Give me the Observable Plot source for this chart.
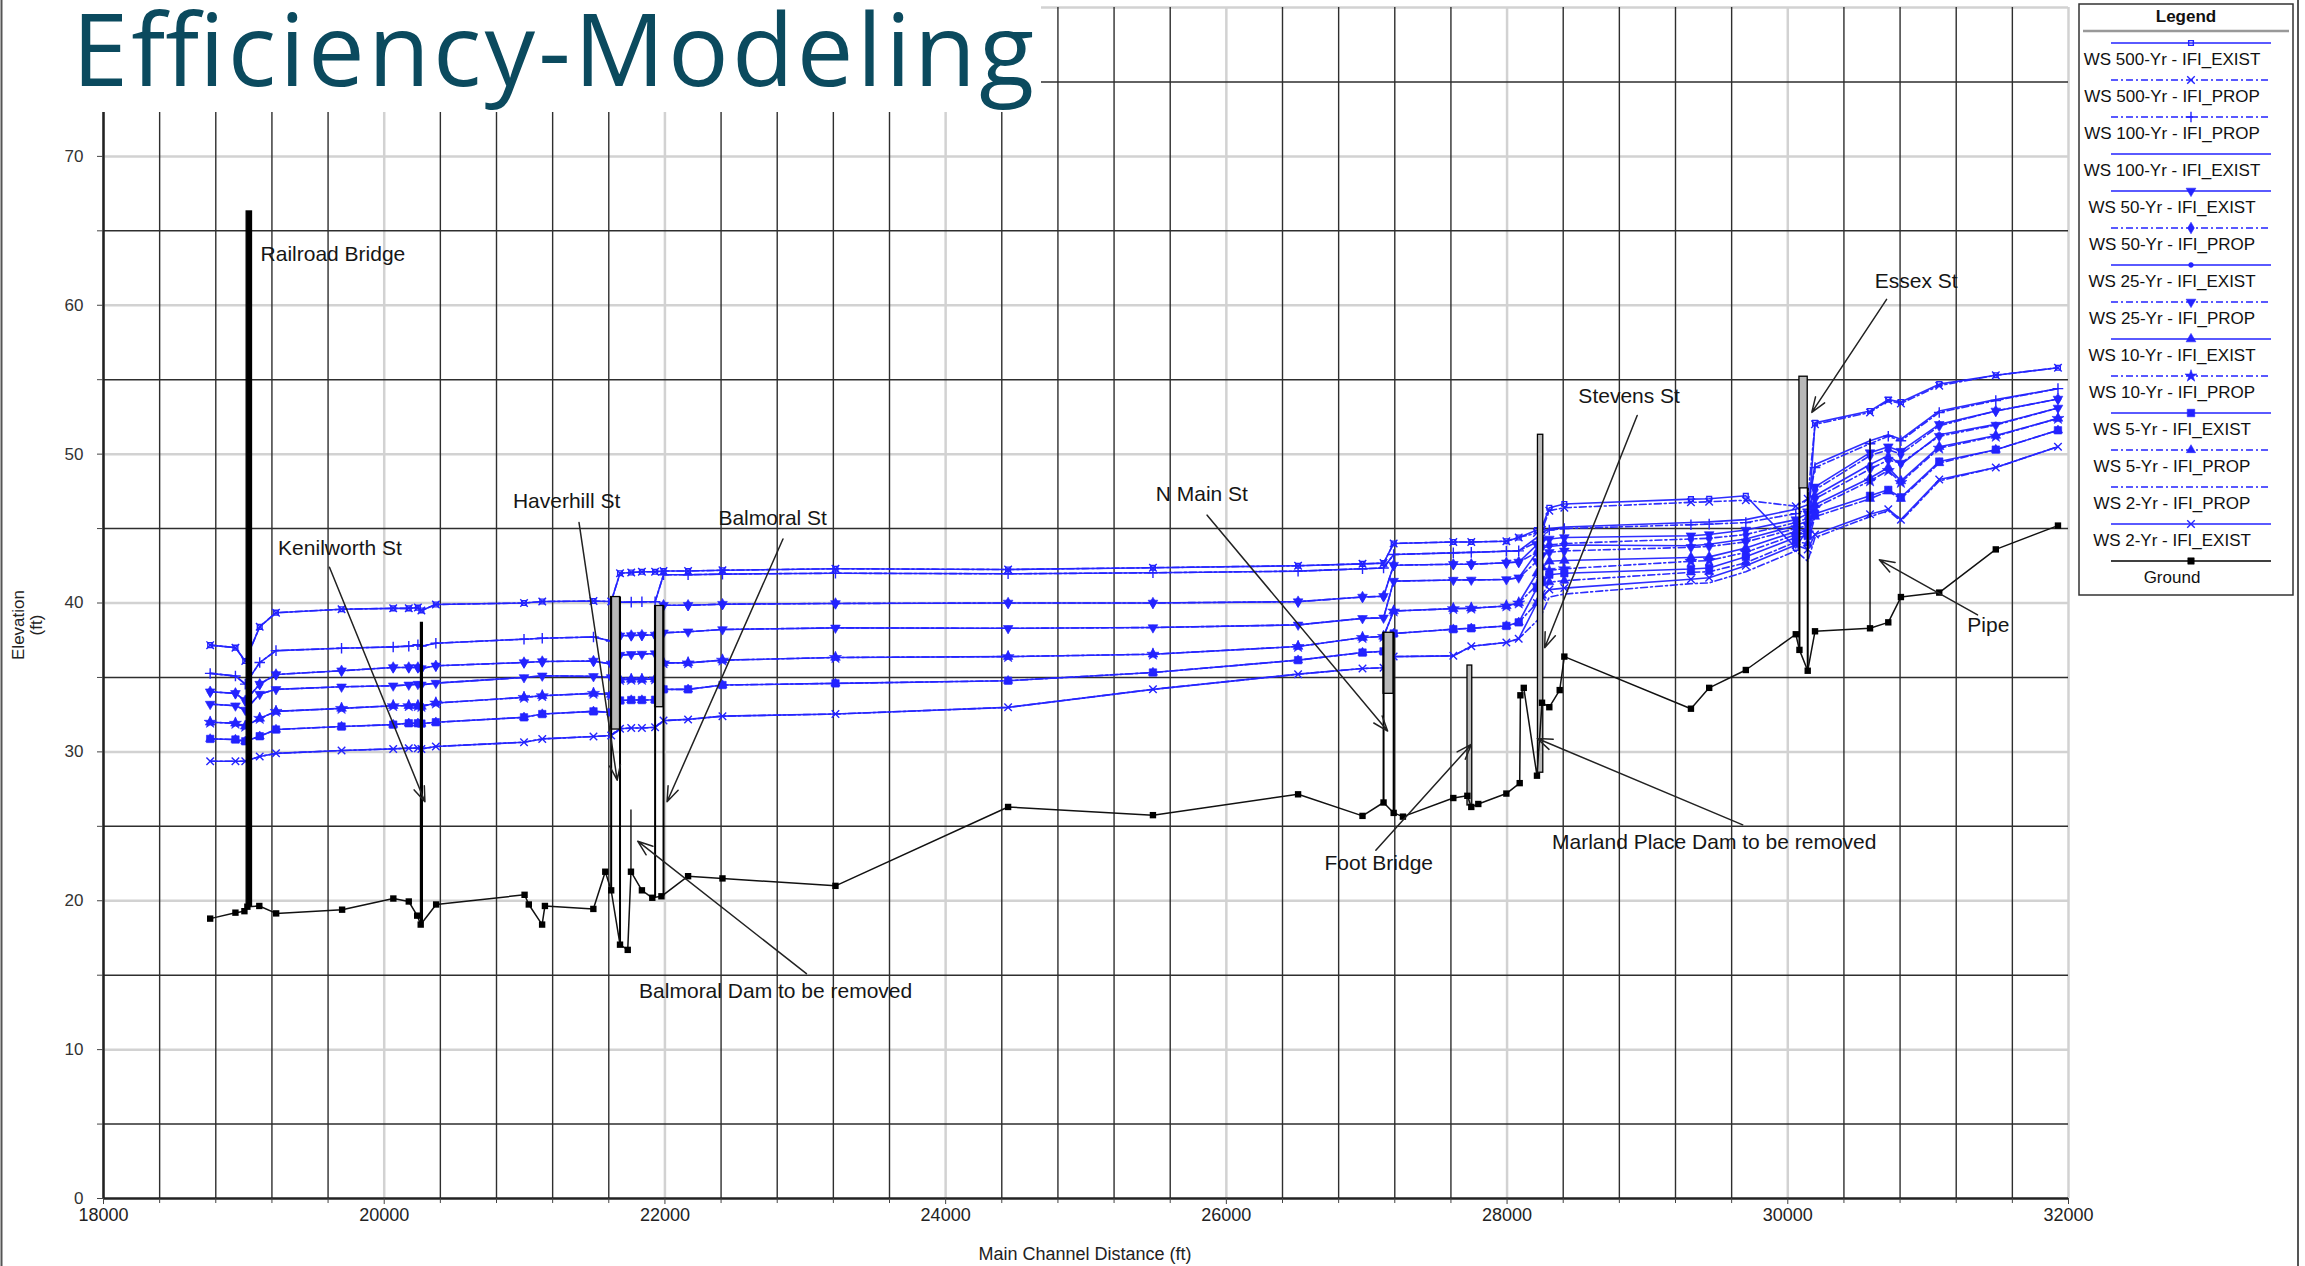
<!DOCTYPE html>
<html><head><meta charset="utf-8">
<script src="https://cdn.jsdelivr.net/npm/d3@7"></script>
<script src="https://cdn.jsdelivr.net/npm/@observablehq/plot@0.6"></script>
<style>html,body{margin:0;padding:0;background:#fff;}#wrap{position:relative;width:2305px;height:1266px;overflow:hidden;}</style>
</head><body><div id="wrap"></div>
<script>
// ---- data (main channel distance in ft, elevation in ft) ----
const stations = [18760,18940,19010,19113,19229,19696,20064,20175,20240,20265,20368,20996,21126,21491,21617,21680,21760,21836,21930,21990,22165,22410,23215,24445,25477,26511,26970,27120,27192,27617,27745,27995,28083,28213,28249,28301,28408,29310,29440,29701,30057,30142,30194,30586,30716,30806,31079,31482,31925];

const ws500Exist = [37.17,37.0,36.1,38.4,39.35,39.58,39.64,39.64,39.69,39.5,39.9,40.0,40.1,40.13,40.1,42.0,42.05,42.1,42.1,42.15,42.15,42.2,42.3,42.25,42.37,42.5,42.63,42.68,44.0,44.1,44.1,44.15,44.4,44.9,45.1,46.4,46.65,46.98,47.0,47.2,43.7,45.0,52.1,52.9,53.66,53.5,54.7,55.3,55.8];
const ws500Prop  = [37.17,37.0,36.1,38.4,39.35,39.58,39.64,39.64,39.69,39.5,39.9,40.0,40.1,40.13,40.1,42.0,42.05,42.1,42.1,42.15,42.15,42.2,42.3,42.25,42.37,42.5,42.63,42.68,44.0,44.1,44.1,44.15,44.4,44.7,44.9,46.2,46.4,46.76,46.8,46.9,46.5,47.0,52.0,52.8,53.6,53.4,54.6,55.3,55.8];
const ws100Exist = [35.27,35.1,34.55,36.0,36.8,36.96,37.05,37.1,37.2,37.1,37.3,37.57,37.63,37.72,37.45,40.05,40.06,40.08,40.08,41.9,41.9,41.94,42.0,41.96,42.03,42.14,42.3,42.35,43.26,43.37,43.4,43.48,43.5,44.4,44.7,45.0,45.1,45.41,45.45,45.6,46.3,46.6,49.3,50.9,51.3,51.0,52.9,53.66,54.4];
const ws100Prop  = [35.27,35.1,34.55,36.0,36.8,36.96,37.05,37.1,37.2,37.1,37.3,37.57,37.63,37.72,37.45,40.05,40.06,40.08,40.08,41.9,41.9,41.94,42.0,41.96,42.03,42.14,42.3,42.35,43.26,43.37,43.4,43.48,43.5,44.1,44.4,44.9,45.0,45.26,45.3,45.4,46.0,46.3,49.1,50.7,51.2,50.9,52.8,53.6,54.4];
const ws50Exist  = [34.04,33.93,33.44,34.55,35.2,35.45,35.67,35.67,35.67,35.6,35.78,36.0,36.07,36.1,35.9,37.8,37.82,37.84,37.85,39.85,39.85,39.92,39.97,40.0,40.0,40.09,40.4,40.45,42.54,42.6,42.6,42.7,42.75,43.9,44.2,44.3,44.4,44.52,44.6,44.9,45.6,46.0,47.8,50.1,50.5,50.2,52.0,52.9,53.7];
const ws50Prop   = [34.04,33.93,33.44,34.55,35.2,35.45,35.67,35.67,35.67,35.6,35.78,36.0,36.07,36.1,35.9,37.8,37.82,37.84,37.85,39.85,39.85,39.92,39.97,40.0,40.0,40.09,40.4,40.45,42.54,42.6,42.6,42.7,42.75,43.4,43.8,43.9,44.0,44.3,44.35,44.6,45.4,45.7,47.6,49.9,50.3,50.0,51.9,52.9,53.7];
const ws25Exist  = [33.21,33.1,32.81,33.88,34.2,34.37,34.44,34.5,34.55,34.5,34.62,35.0,35.11,35.07,35.0,36.5,36.55,36.57,36.6,38.0,38.07,38.22,38.33,38.3,38.35,38.53,38.97,39.0,41.47,41.54,41.55,41.58,41.7,43.4,43.7,43.8,43.9,43.85,43.95,44.3,45.2,45.5,47.2,49.3,49.9,49.3,51.3,52.0,53.1];
const ws25Prop   = [33.21,33.1,32.81,33.88,34.2,34.37,34.44,34.5,34.55,34.5,34.62,35.0,35.11,35.07,35.0,36.5,36.55,36.57,36.6,38.0,38.07,38.22,38.33,38.3,38.35,38.53,38.97,39.0,41.47,41.54,41.55,41.58,41.7,42.8,43.2,43.4,43.5,43.74,43.8,44.1,45.0,45.2,47.0,49.0,49.6,49.4,51.2,51.95,53.1];
const ws10Exist  = [31.99,31.92,31.72,32.25,32.72,32.92,33.1,33.1,33.1,33.05,33.28,33.66,33.77,33.93,33.85,34.85,34.87,34.87,34.9,35.98,35.98,36.16,36.34,36.4,36.56,37.08,37.68,37.75,39.46,39.62,39.65,39.8,40.0,42.0,42.4,42.8,42.85,43.06,43.1,43.7,44.8,45.0,46.6,48.4,49.1,48.2,50.5,51.25,52.4];
const ws10Prop   = [31.99,31.92,31.72,32.25,32.72,32.92,33.1,33.1,33.1,33.05,33.28,33.66,33.77,33.93,33.85,34.85,34.87,34.87,34.9,35.98,35.98,36.16,36.34,36.4,36.56,37.08,37.68,37.75,39.46,39.62,39.65,39.8,40.0,41.2,41.6,42.2,42.3,42.8,42.85,43.4,44.6,44.7,46.4,48.2,48.9,48.1,50.4,51.2,52.4];
const ws5Exist   = [30.87,30.83,30.71,31.05,31.5,31.7,31.83,31.92,31.92,31.9,31.99,32.32,32.54,32.72,32.65,33.45,33.48,33.48,33.5,34.2,34.2,34.49,34.6,34.78,35.33,36.16,36.67,36.75,37.95,38.24,38.3,38.46,38.7,41.0,41.4,41.9,42.0,42.28,42.35,43.1,44.4,44.5,46.0,47.2,47.6,47.1,49.5,50.3,51.6];
const ws5Prop    = [30.87,30.83,30.71,31.05,31.5,31.7,31.83,31.92,31.92,31.9,31.99,32.32,32.54,32.72,32.65,33.45,33.48,33.48,33.5,34.2,34.2,34.49,34.6,34.78,35.33,36.16,36.67,36.75,37.95,38.24,38.3,38.46,38.7,40.0,40.5,41.4,41.5,42.06,42.1,42.7,44.1,44.0,45.8,47.0,47.5,47.0,49.4,50.3,51.6];
const ws2Exist   = [29.37,29.37,29.37,29.69,29.9,30.09,30.2,30.25,30.25,30.2,30.36,30.65,30.87,31.03,31.1,31.55,31.6,31.6,31.65,32.1,32.18,32.4,32.54,32.99,34.2,35.22,35.6,35.65,36.4,36.45,37.1,37.35,37.6,40.0,40.4,40.9,41.0,41.6,41.7,42.5,43.9,43.6,44.6,45.96,46.3,45.6,48.3,49.1,50.5];
const ws2Prop    = [29.37,29.37,29.37,29.69,29.9,30.09,30.2,30.25,30.25,30.2,30.36,30.65,30.87,31.03,31.1,31.55,31.6,31.6,31.65,32.1,32.18,32.4,32.54,32.99,34.2,35.22,35.6,35.65,36.4,36.45,37.1,37.35,37.6,38.8,39.3,40.4,40.6,41.3,41.35,42.1,43.5,42.8,44.4,45.8,46.2,45.5,48.2,49.1,50.5];

const groundX = [18760,18940,19004,19025,19110,19230,19700,20065,20175,20235,20260,20370,21000,21030,21125,21145,21490,21575,21617,21680,21735,21758,21836,21910,21975,22165,22410,23215,24445,25477,26511,26970,27120,27192,27258,27617,27717,27745,27795,27995,28090,28095,28119,28213,28249,28301,28375,28408,29310,29440,29701,30057,30083,30142,30194,30586,30716,30806,31079,31482,31925];
const groundY = [18.8,19.2,19.3,19.6,19.65,19.15,19.4,20.15,19.95,19.0,18.4,19.75,20.4,19.75,18.4,19.65,19.45,21.95,20.7,17.05,16.7,21.95,20.7,20.2,20.3,21.65,21.5,21.0,26.3,25.75,27.15,25.7,26.6,25.9,25.65,26.9,27.05,26.3,26.5,27.2,27.9,33.8,34.3,28.4,33.3,33.0,34.15,36.4,32.9,34.3,35.5,37.9,36.85,35.45,38.1,38.3,38.7,40.4,40.7,43.6,45.2];

// structures: decks / bars (x1,x2,bottom,top) and piers (x, bottom, top)
const deckX1 = [19020,21617,21930,27120,27718,28220,30083];
const deckX2 = [19058,21680,21990,27192,27752,28258,30142];
const deckLo = [19.6,31.5,33.0,33.9,26.4,28.6,47.7];
const deckHi = [66.3,40.4,39.8,38.0,35.8,51.3,55.2];
const pierX  = [20265,21617,21680,21758,21930,21990,27120,27192,30083,30142,30586];
const pierLo = [18.4,20.7,17.05,21.95,20.2,20.3,26.6,25.9,36.85,35.45,38.3];
const pierHi = [38.7,40.4,40.4,26.1,39.8,39.8,38.0,38.0,47.7,47.7,51.0];

// annotations
const annLabels = ["Railroad Bridge","Kenilworth St","Haverhill St","Balmoral St","Balmoral Dam to be removed","N Main St","Foot Bridge","Marland Place Dam to be removed","Stevens St","Essex St","Pipe"];
const annTextX = [19119,19244,20917,22381,21816,25497,26699,28320,28508,30620,31279];
const annTextY = [63.4,43.7,46.8,45.7,13.9,47.3,22.5,23.9,53.9,61.6,38.5];
const arrowFromX = [null,19610,21388,22841,23008,25863,27065,29679,28927,30704,31352];
const arrowFromY = [null,42.4,45.4,44.3,15.1,45.9,23.4,25.1,52.6,60.4,39.2];
const arrowToX = [null,20290,21660,22015,21806,27149,27745,28215,28268,30171,30652];
const arrowToY = [null,26.65,28.1,26.65,24.0,31.4,30.5,30.9,37.0,52.8,42.9];

const xTicks = [18000,20000,22000,24000,26000,28000,30000,32000];
const yTicks = [0,10,20,30,40,50,60,70];
const yMinorTicks = [5,15,25,35,45,55,65,75];

const seriesNames = ["WS 500-Yr - IFI_EXIST","WS 500-Yr - IFI_PROP","WS 100-Yr - IFI_PROP","WS 100-Yr - IFI_EXIST","WS 50-Yr - IFI_EXIST","WS 50-Yr - IFI_PROP","WS 25-Yr - IFI_EXIST","WS 25-Yr - IFI_PROP","WS 10-Yr - IFI_EXIST","WS 10-Yr - IFI_PROP","WS 5-Yr - IFI_EXIST","WS 5-Yr - IFI_PROP","WS 2-Yr - IFI_PROP","WS 2-Yr - IFI_EXIST"];
const seriesValues = [ws500Exist,ws500Prop,ws100Prop,ws100Exist,ws50Exist,ws50Prop,ws25Exist,ws25Prop,ws10Exist,ws10Prop,ws5Exist,ws5Prop,ws2Prop,ws2Exist];

// ---- styles ----
const BLUE = "#2323ff";
const DASH = "7,3,2,3";
const styles = [
  {dash:null, symbol:"square2", r:3, filled:false},
  {dash:DASH, symbol:"times", r:3.5, filled:false},
  {dash:DASH, symbol:"plus", r:3.5, filled:false},
  {dash:null, symbol:null},
  {dash:null, symbol:"triangle", rotate:180, r:3.6, filled:true},
  {dash:DASH, symbol:"diamond", r:3.5, filled:true},
  {dash:null, symbol:"circle", r:2.4, filled:true},
  {dash:DASH, symbol:"triangle", rotate:180, r:3.6, filled:true},
  {dash:null, symbol:"triangle", r:3.6, filled:true},
  {dash:DASH, symbol:"star", r:3.8, filled:true},
  {dash:null, symbol:"square", r:4.2, filled:true},
  {dash:DASH, symbol:"triangle", r:3.4, filled:true},
  {dash:DASH, symbol:null},
  {dash:null, symbol:"times", r:3.5, filled:false}
];

const idx = d3.range(stations.length);
const gIdx = d3.range(groundX.length);
const decks = d3.range(deckX1.length);
const piers = d3.range(pierX.length);
const anns = d3.range(annLabels.length);
const arrows = anns.filter(i => arrowFromX[i] != null);

const gridMajorX = d3.range(18000, 32001, 2000);
const gridMinorX = d3.range(18000, 32001, 400).filter(v => v % 2000 !== 0);

const marks = [
  Plot.ruleX(gridMajorX, {stroke:"#d2d2d2", strokeWidth:2.5}),
  Plot.ruleY([10,20,30,40,50,60,70,80], {stroke:"#d2d2d2", strokeWidth:2.5}),
  Plot.ruleX(gridMinorX, {stroke:"#2e2e2e", strokeWidth:1.4}),
  Plot.ruleY(yMinorTicks, {stroke:"#2e2e2e", strokeWidth:1.4}),
  Plot.ruleY([0], {stroke:"#222", strokeWidth:2.5}),
  Plot.ruleX([18000], {stroke:"#222", strokeWidth:2.5}),
  Plot.axisY(yTicks, {tickSize:6, tickPadding:14, fontSize:17, label:null, stroke:"#444", fill:"#333"}),
  Plot.axisY(yMinorTicks, {tickSize:6, tickFormat:() => "", label:null, stroke:"#444"}),
  Plot.axisX(xTicks, {tickSize:6, tickPadding:4, fontSize:18, label:null, tickFormat:d => String(d), stroke:"#444", fill:"#222"}),
  Plot.axisX(gridMinorX, {tickSize:5, tickFormat:() => "", label:null, stroke:"#444"})
];

// WS lines
seriesValues.forEach((vals, k) => {
  const s = styles[k];
  marks.push(Plot.line(idx, {x: i => stations[i], y: i => vals[i], stroke: BLUE, strokeWidth: 1.6, strokeDasharray: s.dash, strokeOpacity: 0.95}));
});
seriesValues.forEach((vals, k) => {
  const s = styles[k];
  if (!s.symbol) return;
  marks.push(Plot.dot(idx, {x: i => stations[i], y: i => vals[i], symbol: s.symbol, r: s.r, rotate: s.rotate || 0,
    fill: s.filled ? BLUE : "none", stroke: BLUE, strokeWidth: s.filled ? 0.6 : 1.4}));
});

// structures
marks.push(
  Plot.rect(decks, {x1: i => deckX1[i], x2: i => deckX2[i], y1: i => deckLo[i], y2: i => deckHi[i],
    fill: i => i === 0 ? "#000" : "#b8b8b8", stroke: "#000", strokeWidth: 1.3}),
  Plot.ruleX(piers, {x: i => pierX[i], y1: i => pierLo[i], y2: i => pierHi[i], stroke: "#000", strokeWidth: i => i === 0 ? 3.2 : (i === 3 || i === 10 ? 1.3 : 2)})
);

// ground
marks.push(
  Plot.line(gIdx, {x: i => groundX[i], y: i => groundY[i], stroke: "#111", strokeWidth: 1.5}),
  Plot.dot(gIdx, {x: i => groundX[i], y: i => groundY[i], symbol: "square", r: 3.6, fill: "#000"})
);

// annotations
marks.push(
  Plot.arrow(arrows, {x1: i => arrowFromX[i], y1: i => arrowFromY[i], x2: i => arrowToX[i], y2: i => arrowToY[i],
    stroke: "#222", strokeWidth: 1.5, headLength: 16, headAngle: 40}),
  Plot.text(anns, {x: i => annTextX[i], y: i => annTextY[i], text: i => annLabels[i], textAnchor: "start",
    fontSize: 21, fill: "#161616", fontFamily: "'Liberation Sans', Arial, sans-serif"})
);

const svg = Plot.plot({
  width: 2305, height: 1266,
  marginLeft: 103, marginRight: 237, marginTop: 7, marginBottom: 68,
  x: {domain: [18000, 32000]},
  y: {domain: [0, 80]},
  color: {type: "identity"},
  style: {fontFamily: "'Liberation Sans', Arial, sans-serif", fontSize: "17px", background: "#fff", color: "#222", overflow: "visible"},
  marks
});

const root = d3.select(svg);

// axis titles
root.append("text").attr("x", 1085).attr("y", 1260).attr("text-anchor", "middle")
  .attr("font-size", 18).attr("fill", "#222").text("Main Channel Distance (ft)");
const yl = root.append("g").attr("transform", "translate(24,625) rotate(-90)").attr("font-size", 17).attr("fill", "#222").attr("text-anchor", "middle");
yl.append("text").attr("y", 0).text("Elevation");
yl.append("text").attr("y", 18).text("(ft)");

// slide edges
root.append("line").attr("x1", 1.5).attr("x2", 1.5).attr("y1", 0).attr("y2", 1266).attr("stroke", "#555").attr("stroke-width", 2);
root.append("line").attr("x1", 2298).attr("x2", 2298).attr("y1", 0).attr("y2", 1266).attr("stroke", "#555").attr("stroke-width", 2);

// title block
root.append("rect").attr("x", 69).attr("y", 0).attr("width", 972).attr("height", 112).attr("fill", "#fff");
root.append("text").attr("x", 72).attr("y", 86).attr("text-anchor", "start").attr("font-family", "'Open Sans', 'Noto Sans', sans-serif")
  .attr("font-size", 101).attr("textLength", 962).attr("lengthAdjust", "spacing")
  .attr("fill", "#0b4a5e").text("Efficiency-Modeling");

// legend
const lg = root.append("g").attr("font-family", "'Liberation Sans', Arial, sans-serif");
lg.append("rect").attr("x", 2079).attr("y", 4).attr("width", 214).attr("height", 591).attr("fill", "#fff").attr("stroke", "#333").attr("stroke-width", 1.5);
lg.append("text").attr("x", 2186).attr("y", 22).attr("text-anchor", "middle").attr("font-size", 17).attr("font-weight", "bold").attr("fill", "#111").text("Legend");
lg.append("line").attr("x1", 2083).attr("x2", 2289).attr("y1", 31).attr("y2", 31).attr("stroke", "#999").attr("stroke-width", 2.5);
const symMap = {circle: d3.symbolCircle, square: d3.symbolSquare, triangle: d3.symbolTriangle, diamond: d3.symbolDiamond,
  star: d3.symbolStar, times: d3.symbolTimes, plus: d3.symbolPlus, square2: d3.symbolSquare2};
const legendNames = seriesNames.concat(["Ground"]);
legendNames.forEach((name, k) => {
  const ly = 43 + 37 * k;
  const isGround = k === seriesNames.length;
  const s = isGround ? {dash:null, symbol:"square", r:3.6, filled:true} : styles[k];
  const col = isGround ? "#000" : BLUE;
  lg.append("line").attr("x1", 2111).attr("x2", 2271).attr("y1", ly).attr("y2", ly)
    .attr("stroke", col).attr("stroke-width", 1.6).attr("stroke-dasharray", s.dash);
  if (s.symbol) {
    lg.append("path").attr("d", d3.symbol(symMap[s.symbol], s.r * s.r * Math.PI)())
      .attr("transform", `translate(2191,${ly}) rotate(${s.rotate || 0})`)
      .attr("fill", s.filled ? col : "none").attr("stroke", col).attr("stroke-width", s.filled ? 0.6 : 1.4);
  }
  lg.append("text").attr("x", 2172).attr("y", ly + 22).attr("text-anchor", "middle").attr("font-size", 17).attr("fill", "#111").text(name);
});

document.getElementById("wrap").appendChild(svg);
</script>
</body></html>
